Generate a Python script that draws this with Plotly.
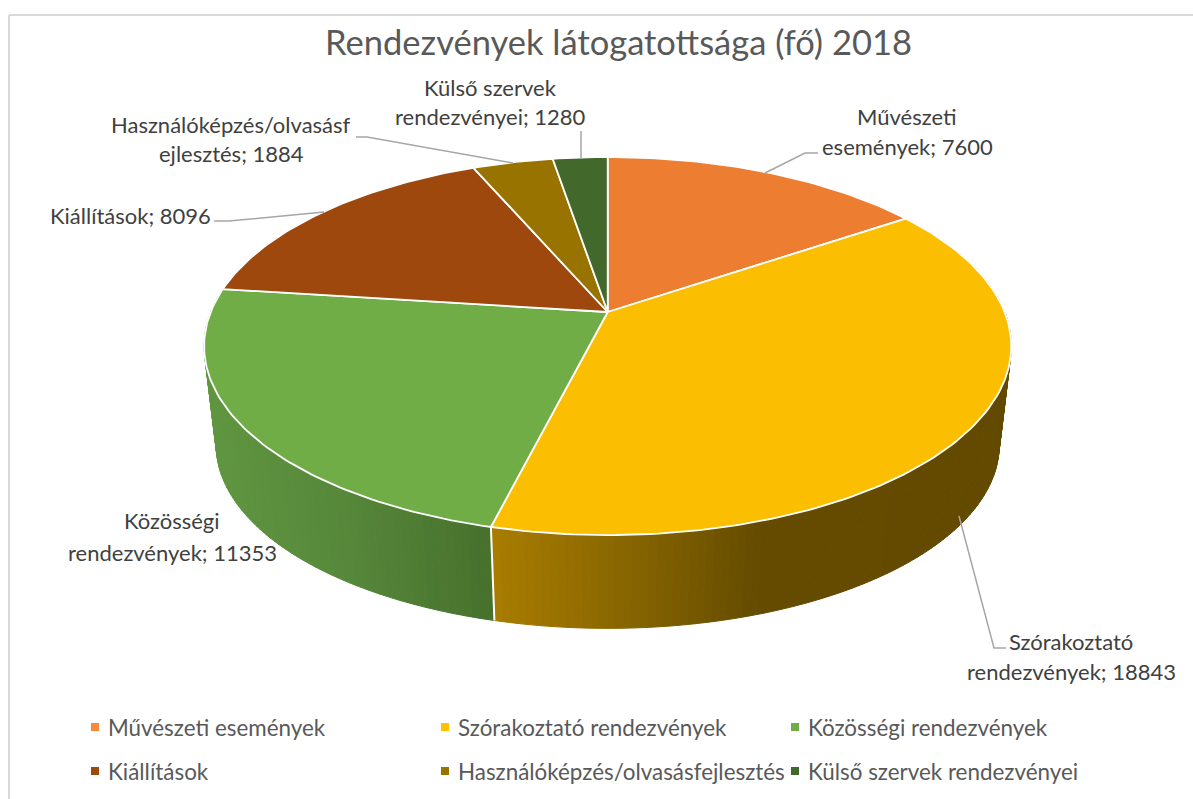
import math
import plotly.graph_objects as go

# ---- data ----
TITLE = "Rendezvények látogatottsága (fő) 2018"
CATEGORIES = ["Művészeti események", "Szórakoztató rendezvények", "Közösségi rendezvények",
              "Kiállítások", "Használóképzés/olvasásfejlesztés", "Külső szervek rendezvényei"]
VALUES = [7600, 18843, 11353, 8096, 1884, 1280]
TOP_COLORS = ["#ED7D31", "#FBBE00", "#70AD47", "#9E480E", "#997300", "#43682B"]
LEGEND_COLORS = ["#F58A3C", "#FFC000", "#70AD47", "#9E480E", "#997300", "#43682B"]

# data-label lines ({} = the value of the category)
LABEL_LINES = [["Művészeti", "események; {}"], ["Szórakoztató", "rendezvények; {}"],
               ["Közösségi", "rendezvények; {}"], ["Kiállítások; {}"],
               ["Használóképzés/olvasásf", "ejlesztés; {}"], ["Külső szervek", "rendezvényei; {}"]]
LABEL_POS = [(907, [116, 146]), (1071, [641, 671]), (172, [520, 552]),
             (130, [215]), (231, [124, 153]), (490, [87, 116])]
LEADERS = [[(765, 173), (805, 153), (818, 153)], [(959, 516), (994, 648), (1006, 648)], None,
           [(214, 221), (229, 221), (324, 212)], [(356, 137), (367, 137), (513, 163)],
           [(581, 158), (581, 131)]]

# ---- geometry of the tilted disc (pixels) ----
W, H = 1193, 799
CX, CY, A, B, P = 607.7, 312, 397, 182.9, 0.18
DEPTH_Y, DEPTH_SCALE = 412, 0.97
FONT = "Lato"


def top_pt(th):
    d = 1 + P * math.cos(th)
    return CX + A * math.sin(th) / d, CY - B * math.cos(th) / d


def bottom_pt(th):
    x, y = top_pt(th)
    return CX + DEPTH_SCALE * (x - CX), DEPTH_Y + DEPTH_SCALE * (y - CY)


def lerp_stops(stops, x):
    if x <= stops[0][0]:
        return stops[0][1]
    for (x0, c0), (x1, c1) in zip(stops, stops[1:]):
        if x <= x1:
            t = (x - x0) / (x1 - x0)
            return tuple(a + (b - a) * t for a, b in zip(c0, c1))
    return stops[-1][1]


GREEN_SIDE = [(207, (96, 150, 64)), (350, (86, 135, 58)), (494, (70, 112, 44))]
GOLD_SIDE = [(494, (168, 124, 0)), (600, (142, 106, 0)), (760, (100, 75, 0)), (1010, (99, 74, 0))]

total = sum(VALUES)
angles = [0.0]
for v in VALUES:
    angles.append(angles[-1] + 2 * math.pi * v / total)

fig = go.Figure()


def poly(xs, ys, fill, line, width):
    fig.add_trace(go.Scatter(x=xs, y=ys, mode="lines", fill="toself", fillcolor=fill,
                             line=dict(color=line, width=width), showlegend=False, hoverinfo="skip"))


# side wall: front-facing part of slices 2 and 3, shaded left to right
for i, stops in [(1, GOLD_SIDE), (2, GREEN_SIDE)]:
    a0 = max(angles[i], math.radians(70))
    a1 = min(angles[i + 1], math.radians(290))
    n = int((a1 - a0) / math.radians(1.0)) + 1
    for k in range(n):
        t0 = a0 + (a1 - a0) * k / n
        t1 = a0 + (a1 - a0) * (k + 1) / n
        p = [top_pt(t0), top_pt(t1), bottom_pt(t1), bottom_pt(t0)]
        mx = sum(q[0] for q in p) / 4
        c = lerp_stops(stops, mx)
        col = "rgb(%d,%d,%d)" % tuple(round(z) for z in c)
        poly([q[0] for q in p] + [p[0][0]], [q[1] for q in p] + [p[0][1]], col, col, 1)

# white seam on the wall between slices 2 and 3
s0, s1 = top_pt(angles[2]), bottom_pt(angles[2])
fig.add_trace(go.Scatter(x=[s0[0], s1[0]], y=[s0[1], s1[1]], mode="lines",
                         line=dict(color="white", width=2), showlegend=False, hoverinfo="skip"))

# top faces
for i, col in enumerate(TOP_COLORS):
    n = max(4, int((angles[i + 1] - angles[i]) / math.radians(1)))
    pts = [top_pt(angles[i] + (angles[i + 1] - angles[i]) * k / n) for k in range(n + 1)]
    poly([CX] + [q[0] for q in pts] + [CX], [CY] + [q[1] for q in pts] + [CY], col, "white", 1.8)

# leader lines
for seg in LEADERS:
    if seg:
        fig.add_trace(go.Scatter(x=[q[0] for q in seg], y=[q[1] for q in seg], mode="lines",
                                 line=dict(color="#A6A6A6", width=1.5), showlegend=False, hoverinfo="skip"))

annotations = []
# data labels
for lines, v, (lx, lys) in zip(LABEL_LINES, VALUES, LABEL_POS):
    for txt, ly in zip(lines, lys):
        annotations.append(dict(x=lx, y=ly, xref="x", yref="y", text=txt.format(v), showarrow=False,
                                xanchor="center", yanchor="middle",
                                font=dict(family=FONT, size=22, color="#404040")))

# legend
LEG_X = [95, 445, 795]
LEG_Y = [727, 771]
for i, (name, col) in enumerate(zip(CATEGORIES, LEGEND_COLORS)):
    lx, ly = LEG_X[i % 3], LEG_Y[i // 3]
    fig.add_trace(go.Scatter(x=[lx], y=[ly], mode="markers", name=name, showlegend=False, hoverinfo="skip",
                             marker=dict(symbol="square", size=8, color=col, line=dict(width=0))))
    annotations.append(dict(x=lx + 11, y=ly, xref="x", yref="y", text=name, showarrow=False,
                            xanchor="left", yanchor="middle",
                            font=dict(family=FONT, size=22.4, color="#595959")))

# chart-area border (only top and left are inside the picture)
shapes = [dict(type="line", x0=9, x1=9, y0=15, y1=H, xref="x", yref="y", line=dict(color="#D9D9D9", width=2)),
          dict(type="line", x0=9, x1=W, y0=15, y1=15, xref="x", yref="y", line=dict(color="#D9D9D9", width=2))]

fig.update_layout(
    width=W, height=H, margin=dict(l=0, r=0, t=0, b=0),
    paper_bgcolor="white", plot_bgcolor="white", showlegend=False,
    title=dict(text=TITLE, x=618.5 / W, y=1 - 43 / H, xanchor="center", yanchor="middle", xref="paper", yref="paper",
               font=dict(family=FONT, size=34.5, color="#595959")),
    xaxis=dict(range=[0, W], visible=False, fixedrange=True),
    yaxis=dict(range=[H, 0], visible=False, fixedrange=True),
    annotations=annotations, shapes=shapes,
)
fig.write_html("out.html", post_script="document.body.style.margin='0';document.documentElement.style.overflow='hidden';",
               config={"displayModeBar": False})
